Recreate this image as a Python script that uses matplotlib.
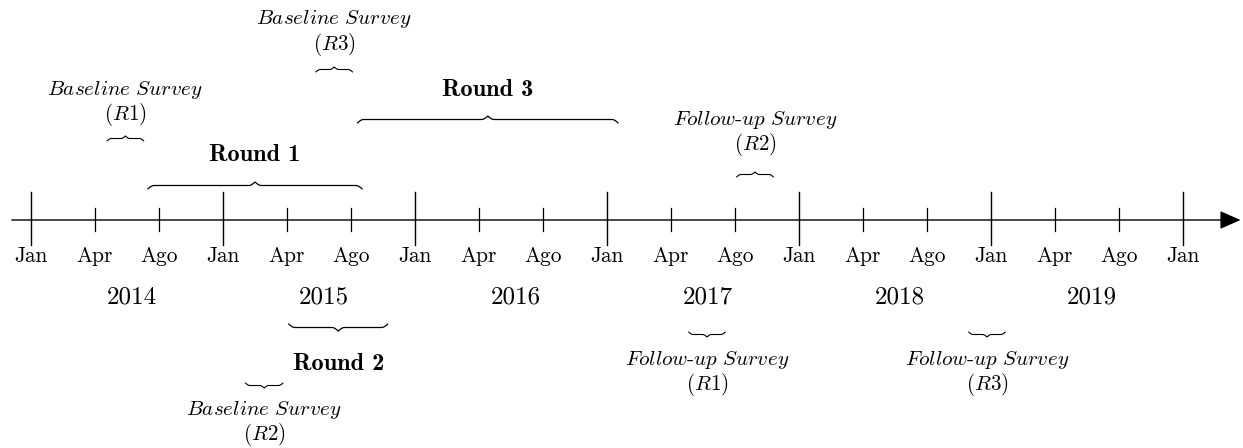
import numpy as np
import matplotlib.pyplot as plt

plt.rcParams['mathtext.fontset'] = 'cm'

# timeline in months from Jan 2014
tick_pos = list(range(0, 73, 4))
tick_lab = ['Jan', 'Apr', 'Ago'] * 6 + ['Jan']
years = ['2014', '2015', '2016', '2017', '2018', '2019']
year_pos = [6.3, 18.3, 30.3, 42.3, 54.3, 66.3]

# rounds: (start, end) in months, label, above/below
round_labels = ['Round 1', 'Round 2', 'Round 3']
round_start = [7.3, 16.1, 20.4]
round_end = [20.7, 22.3, 36.7]
round_above = [True, False, True]

# surveys (italic via mathtext, hyphen kept as text)
base = r'$\mathit{Baseline\ Survey}$'
follow = r'$\mathit{Follow}$-$\mathit{up\ Survey}$'
survey_line1 = [base, base, base, follow, follow, follow]
survey_line2 = [r'$(\mathit{R}1)$', r'$(\mathit{R}2)$', r'$(\mathit{R}3)$',
                r'$(\mathit{R}1)$', r'$(\mathit{R}2)$', r'$(\mathit{R}3)$']
survey_start = [4.75, 13.4, 17.8, 41.1, 44.1, 58.6]
survey_end = [7.05, 15.75, 20.1, 43.4, 46.4, 60.9]
survey_above = [True, False, True, False, True, False]

# layout (pixel rows, y grows downwards)
axis_y = 220
round_brace_y = {'Round 1': 189, 'Round 2': 324, 'Round 3': 123}
round_text_y = {'Round 1': 155, 'Round 2': 364, 'Round 3': 90}
survey_brace_y = [141, 383, 72, 332, 177, 332]
survey_text_y = [90, 410, 19, 360, 120, 360]

PX = 16.0  # pixels per month


def brace(ax, x0, x1, y, amp, up=True, lw=0.9):
    s = -1 if up else 1
    w = amp * 0.9 / PX
    xm = (x0 + x1) / 2
    t = np.linspace(0, 1, 20)
    yl = y + s * amp / 2
    xa = x0 + w * t
    ya = y + s * amp / 2 * np.sin(t * np.pi / 2)
    xb = xm - w + w * t
    yb = yl + s * amp / 2 * (1 - np.cos(t * np.pi / 2))
    xs = np.concatenate([xa, xb, 2 * xm - xb[::-1], 2 * xm - xa[::-1]])
    ys = np.concatenate([ya, yb, yb[::-1], ya[::-1]])
    ax.plot(xs, ys, color='k', lw=lw, solid_capstyle='round')


fig = plt.figure(figsize=(12.43, 4.48), dpi=100)
ax = fig.add_axes([0, 0, 1, 1])
ax.set_xlim(-31 / PX, (1243 - 31) / PX)
ax.set_ylim(448, 0)
ax.axis('off')

# main axis with arrow
ax.annotate('', xy=(75.6, axis_y), xytext=(-1.2, axis_y),
            arrowprops=dict(arrowstyle='-|>,head_length=0.8,head_width=0.35',
                            mutation_scale=16, lw=1.0, color='k',
                            shrinkA=0, shrinkB=0))

for p, lab in zip(tick_pos, tick_lab):
    if lab == 'Jan':
        ax.plot([p, p], [axis_y - 28, axis_y + 25], color='k', lw=1.0)
    else:
        ax.plot([p, p], [axis_y - 12, axis_y + 11], color='k', lw=0.9)
    ax.text(p, 256, lab, family='cmr10', fontsize=15.4, ha='center', va='center')

for p, yr in zip(year_pos, years):
    ax.text(p, 297, yr, family='cmr10', fontsize=18, ha='center', va='center')

for lab, x0, x1, up in zip(round_labels, round_start, round_end, round_above):
    brace(ax, x0, x1, round_brace_y[lab], 7, up=up)
    xc = (x0 + x1) / 2
    ax.text(xc, round_text_y[lab], lab, family='cmb10', fontsize=17.5,
            ha='center', va='center')

for l1, l2, x0, x1, up, by, ty in zip(survey_line1, survey_line2, survey_start,
                                      survey_end, survey_above, survey_brace_y,
                                      survey_text_y):
    brace(ax, x0, x1, by, 5, up=up, lw=0.8)
    xc = (x0 + x1) / 2
    ax.text(xc, ty, l1, family='cmr10', fontsize=15.2, ha='center', va='center')
    ax.text(xc, ty + 25, l2, family='cmr10', fontsize=15.2, ha='center', va='center')

fig.savefig('out.png', dpi=100)
